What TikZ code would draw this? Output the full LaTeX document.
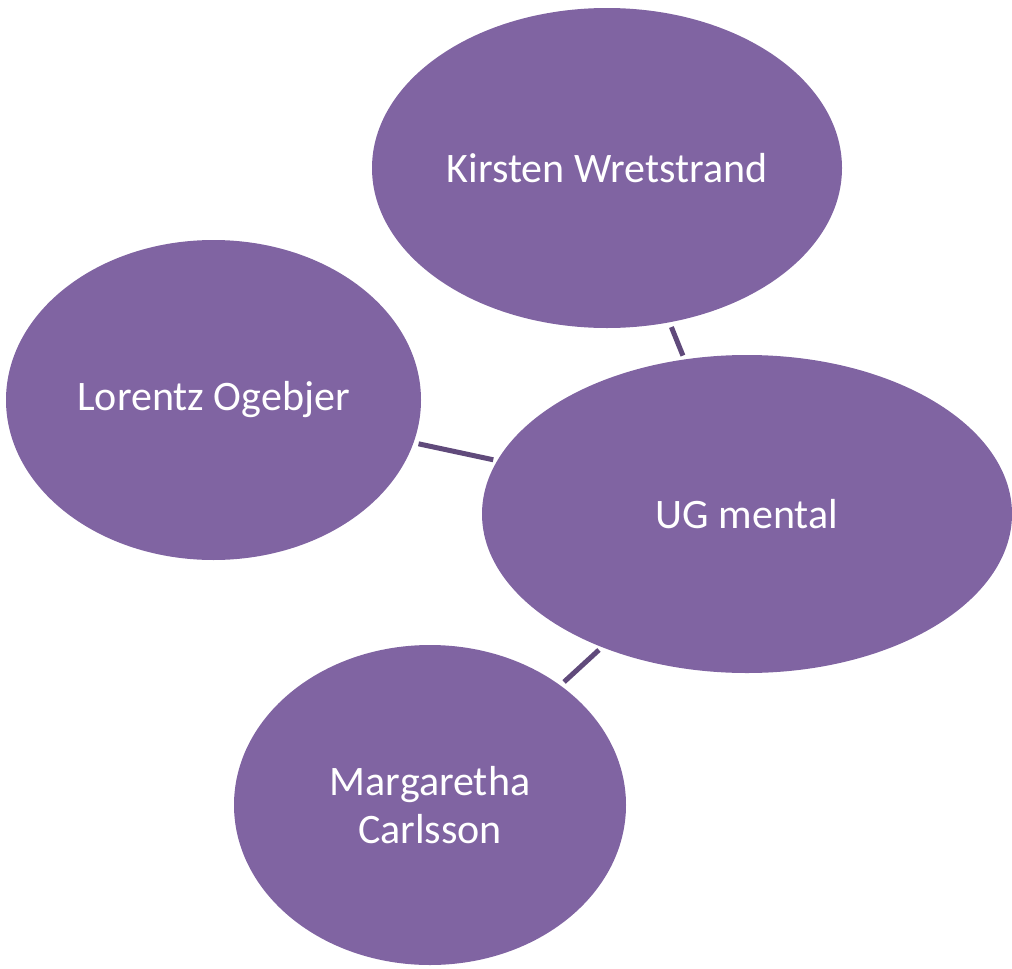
\documentclass[tikz,border=0pt]{standalone}
\usepackage{fontspec}
\setmainfont{Carlito}
\usetikzlibrary{shapes.geometric}
\definecolor{bubble}{HTML}{8064A2}
\definecolor{link}{HTML}{604A7B}
\tikzset{
  bub/.style={ellipse, fill=bubble, draw=none, inner sep=0pt, text=white, align=center,
    font=\fontsize{42}{48}\selectfont},
  lnk/.style={draw=link, line width=5pt, shorten <=5pt, shorten >=4pt}
}
\begin{document}
\begin{tikzpicture}[x=1pt,y=-1pt]
\useasboundingbox (0,0) rectangle (1012,969);
\node[bub, minimum width=470pt, minimum height=320pt] (k) at (607,168) {Kirsten Wretstrand};
\node[bub, minimum width=415pt, minimum height=320pt] (l) at (213.5,400) {Lorentz Ogebjer};
\node[bub, minimum width=530pt, minimum height=318pt] (u) at (747,514) {UG mental};
\node[bub, minimum width=392pt, minimum height=320pt] (m) at (430,805) {Margaretha\\Carlsson};
\draw[lnk] (k) -- (u);
\draw[lnk] (l) -- (u);
\draw[lnk] (m) -- (u);
\end{tikzpicture}
\end{document}
